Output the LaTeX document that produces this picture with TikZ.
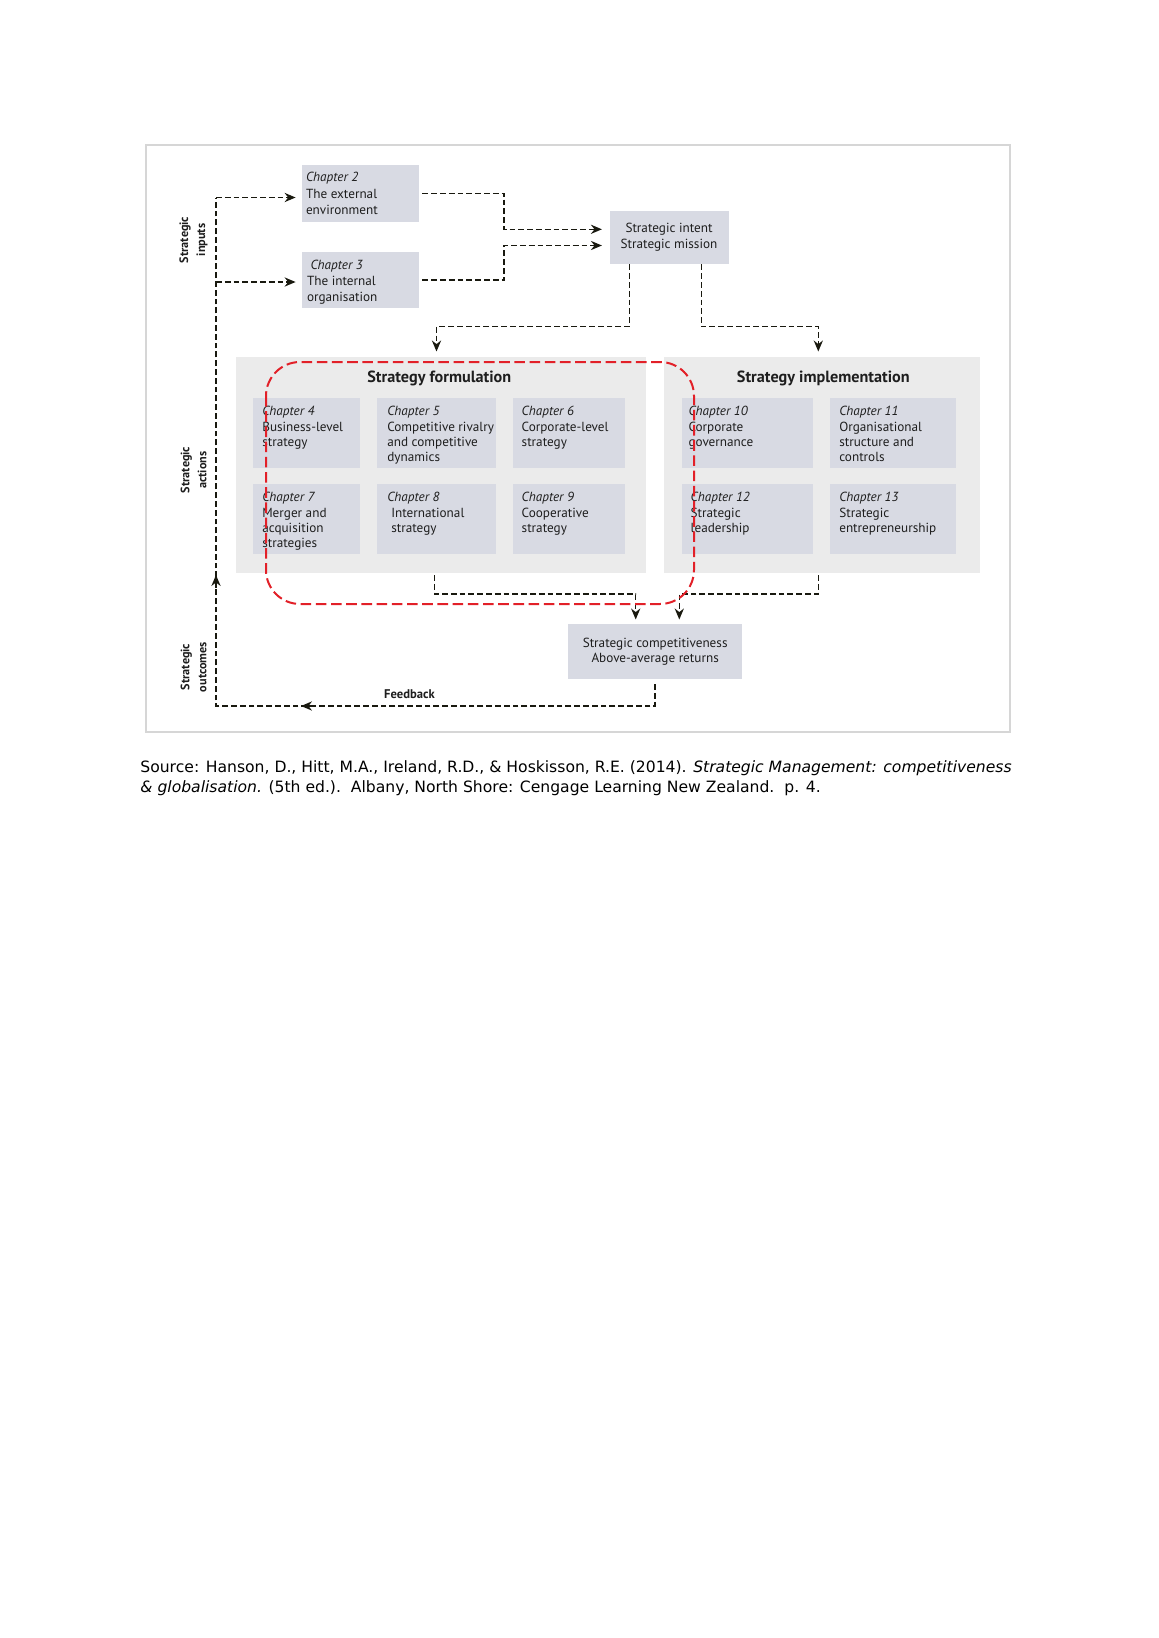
\documentclass[tikz,border=0pt]{standalone}
\usepackage{fontspec}
\setmainfont{PT Sans}
\newfontfamily\capfont{DejaVu Sans}
\usetikzlibrary{arrows.meta,calc,fit}
\definecolor{boxfill}{RGB}{216,218,227}
\definecolor{panelfill}{RGB}{235,235,235}
\definecolor{framec}{RGB}{214,214,214}
\definecolor{linec}{RGB}{25,25,15}
\definecolor{redc}{RGB}{226,32,40}
\definecolor{txt}{RGB}{30,30,30}
\tikzset{
  chbox/.style={fill=boxfill, draw=none, inner sep=0pt},
  panel/.style={fill=panelfill, draw=none, inner sep=0pt},
  chtext/.style={anchor=north west, inner sep=0pt, align=left, text=txt,
     font=\fontsize{6.6}{7.65}\selectfont},
  toptext/.style={anchor=north west, inner sep=0pt, align=left, text=txt,
     font=\fontsize{6.6}{8.1}\selectfont},
  ctext/.style={inner sep=0pt, align=center, text=txt},
  sidelabel/.style={rotate=90, inner sep=0pt, align=center, text=txt,
     font=\bfseries\fontsize{6.1}{8.5}\selectfont},
  titletext/.style={inner sep=0pt, text=txt, font=\bfseries\fontsize{8.1}{9}\selectfont},
  conn/.style={draw=linec, line width=0.75pt, dash pattern=on 2.9pt off 1.5pt},
  tipstyle/.style={-{Stealth[length=5.5pt,width=4.6pt,inset=1.8pt]}},
  arr/.style={conn, tipstyle},
  redloop/.style={draw=redc, line width=1pt, dash pattern=on 5.3pt off 2.3pt, rounded corners=17pt},
  captext/.style={anchor=base west, inner sep=0pt, font=\capfont\fontsize{7.8}{9}\selectfont}
}
\begin{document}
\begin{tikzpicture}[x=0.5pt,y=-0.5pt]
\fill[white] (0,0) rectangle (1158,1638);
\useasboundingbox (0,0) rectangle (1158,1638);

% frame
\node[fit={(146,145)(1010,732)}, inner sep=0pt, draw=framec, line width=1pt] (frame) {};

% panels
\node[panel, fit={(235.7,356.7)(645.7,572.7)}] (formp) {};
\node[panel, fit={(664,356.7)(980,572.7)}] (implp) {};

% boxes
\node[chbox, fit={(302,165)(418.5,221.5)}] (ch2) {};
\node[chbox, fit={(302,252)(418.5,308)}] (ch3) {};
\node[chbox, fit={(609.5,210.7)(728.5,264)}] (intent) {};
\node[chbox, fit={(253.3,398.3)(360,467.7)}] (ch4) {};
\node[chbox, fit={(377.3,398.3)(496,467.7)}] (ch5) {};
\node[chbox, fit={(512.7,398.3)(625,467.7)}] (ch6) {};
\node[chbox, fit={(253.3,484.3)(360,553.7)}] (ch7) {};
\node[chbox, fit={(377.3,484.3)(496,553.7)}] (ch8) {};
\node[chbox, fit={(512.7,484.3)(625,553.7)}] (ch9) {};
\node[chbox, fit={(682,398.3)(813.3,467.7)}] (ch10) {};
\node[chbox, fit={(830.3,398.3)(956,467.7)}] (ch11) {};
\node[chbox, fit={(682,484.3)(813.3,553.7)}] (ch12) {};
\node[chbox, fit={(830.3,484.3)(956,553.7)}] (ch13) {};
\node[chbox, fit={(568.3,624.3)(742,678.7)}] (comp) {};

% box texts
\node[toptext] (t2) at ($(ch2.north west)+(4,7.5)$) {\textit{Chapter 2}\\The external\\environment};
\node[toptext] (t3) at ($(ch3.north west)+(5,8)$) {\textit{~Chapter 3}\\The internal\\organisation};
\node[chtext] (t4) at ($(ch4.north west)+(9,8.2)$) {\textit{Chapter 4}\\Business-level\\strategy};
\node[chtext] (t5) at ($(ch5.north west)+(10,8.2)$) {\textit{Chapter 5}\\Competitive rivalry\\and competitive\\dynamics};
\node[chtext] (t6) at ($(ch6.north west)+(9,8.2)$) {\textit{Chapter 6}\\Corporate-level\\strategy};
\node[chtext] (t7) at ($(ch7.north west)+(9,8.2)$) {\textit{Chapter 7}\\Merger and\\acquisition\\strategies};
\node[chtext] (t8) at ($(ch8.north west)+(10,8.2)$) {\textit{Chapter 8}\\\hspace{2pt}International\\\hspace{2pt}strategy};
\node[chtext] (t9) at ($(ch9.north west)+(9,8.2)$) {\textit{Chapter 9}\\Cooperative\\strategy};
\node[chtext] (t10) at ($(ch10.north west)+(6.5,8.2)$) {\textit{Chapter 10}\\Corporate\\governance};
\node[chtext] (t11) at ($(ch11.north west)+(9,8.2)$) {\textit{Chapter 11}\\Organisational\\structure and\\controls};
\node[chtext] (t12) at ($(ch12.north west)+(8.7,8.2)$) {\textit{Chapter 12}\\Strategic\\leadership};
\node[chtext] (t13) at ($(ch13.north west)+(9,8.2)$) {\textit{Chapter 13}\\Strategic\\entrepreneurship};

\node[ctext, font=\fontsize{6.6}{8}\selectfont] (tint) at (intent.center) {Strategic intent\\Strategic mission};
\node[ctext, font=\fontsize{6.6}{7.8}\selectfont] (tcomp) at (comp.center) {Strategic competitiveness\\Above-average returns};

% titles
\node[titletext] (tform) at (439.3,378.5) {Strategy formulation};
\node[titletext] (timpl) at (823.3,378.5) {Strategy implementation};

% side labels
\node[sidelabel] (lin) at (193.5,240) {Strategic\\inputs};
\node[sidelabel] (lact) at (193.5,470) {Strategic\\actions};
\node[sidelabel] (lout) at (193.5,667) {Strategic\\outcomes};
\node[inner sep=0pt, text=txt, font=\bfseries\fontsize{6.3}{7}\selectfont] (lfb) at (409.5,694) {Feedback};

% coordinates
\coordinate (spTop) at (216,197.5);
\coordinate (spCh3) at (216,282);
\coordinate (spBot) at (216,706);
\coordinate (upA) at (216,588);
\coordinate (upB) at (216,575);
\coordinate (fbA) at (314,706);
\coordinate (fbB) at (301,706);
\coordinate (jx) at (504,0);
\coordinate (in1) at (609.5,229.3);
\coordinate (in2) at (609.5,245.5);
\coordinate (dL) at (629.3,326.7);
\coordinate (dR) at (701.3,326.7);
\coordinate (fx) at (436.5,0);
\coordinate (fx2) at (434.5,0);
\coordinate (ix) at (818.3,0);
\coordinate (hb) at (0,594);
\coordinate (a1) at (635.7,0);
\coordinate (a2) at (679.3,0);

% connectors
\draw[conn, shorten <=2.6pt] (comp.south) -- (comp.south |- spBot) -- (spBot) -- (spTop);
\draw[draw=linec, line width=0.75pt, tipstyle] (fbA) -- (fbB);
\draw[draw=linec, line width=0.75pt, tipstyle] (upA) -- (upB);
\draw[arr, shorten >=3pt] (spTop) -- (ch2.west |- spTop);
\draw[arr, shorten >=3pt] (spCh3) -- (ch3.west |- spCh3);
\draw[arr, shorten <=1.75pt, shorten >=3.8pt] (ch2.east) -- (ch2.east -| jx) -- (jx |- in1) -- (in1);
\draw[arr, shorten <=1.75pt, shorten >=3.8pt] (ch3.east) -- (ch3.east -| jx) -- (jx |- in2) -- (in2);
\draw[arr, shorten >=2.4pt] (intent.south -| dL) -- (dL) -- (dL -| fx) -- (fx |- formp.north);
\draw[arr, shorten >=2.4pt] (intent.south -| dR) -- (dR) -- (dR -| ix) -- (ix |- implp.north);
\draw[arr, shorten <=1pt, shorten >=2.2pt] (formp.south -| fx2) -- (fx2 |- hb) -- (hb -| a1) -- (a1 |- comp.north);
\draw[arr, shorten <=1pt, shorten >=2.2pt] (implp.south -| ix) -- (ix |- hb) -- (hb -| a2) -- (a2 |- comp.north);

% red loop
\draw[redloop] (266,362) rectangle (694,604);

% caption
\node[captext] (cap1) at (140,772.5) {Source: Hanson, D., Hitt, M.A., Ireland, R.D., \& Hoskisson, R.E. (2014). \textit{Strategic Management: competitiveness}};
\node[captext] (cap2) at (140,792.5) {\textit{\& globalisation.} (5th ed.).\ \ Albany, North Shore: Cengage Learning New Zealand.\ \ p. 4.};
\end{tikzpicture}
\end{document}
